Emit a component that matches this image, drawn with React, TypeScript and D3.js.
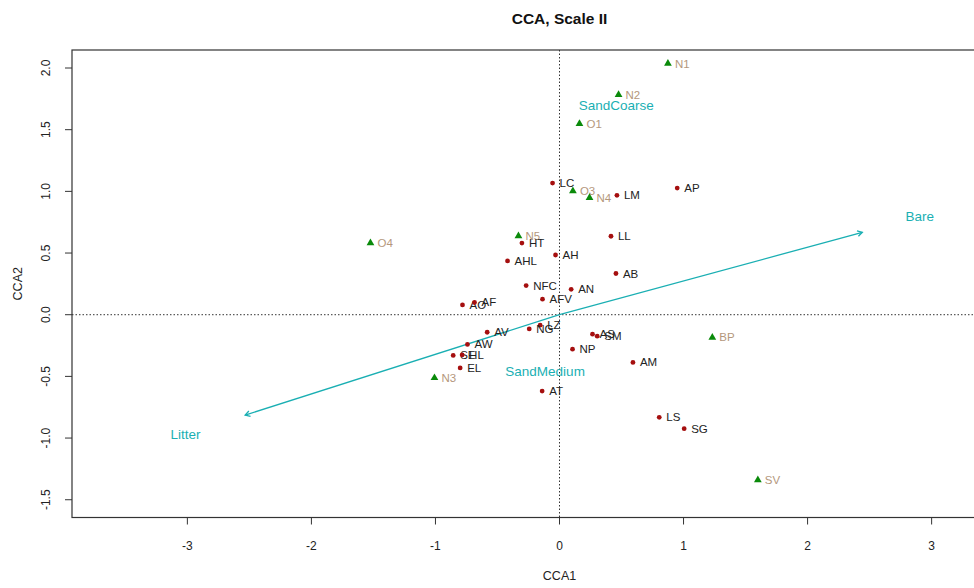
import React from "react";
import * as d3 from "d3";

// Site scores (red points)
const siteNames = ["LC","LM","AP","HT","LL","AHL","AH","AB","NFC","AN","AFV","AO","AF","LZ","NG","AV","AW","SE","HL","EL","AT","NP","AS","SM","AM","LS","SG"];
const siteCCA1 = [-0.056,0.463,0.949,-0.303,0.415,-0.419,-0.032,0.455,-0.269,0.094,-0.137,-0.782,-0.685,-0.156,-0.244,-0.583,-0.742,-0.857,-0.785,-0.801,-0.140,0.105,0.266,0.304,0.592,0.804,1.005];
const siteCCA2 = [1.067,0.968,1.027,0.581,0.636,0.436,0.484,0.334,0.236,0.206,0.126,0.079,0.099,-0.085,-0.115,-0.142,-0.241,-0.330,-0.326,-0.431,-0.619,-0.279,-0.158,-0.174,-0.387,-0.832,-0.924];

// Plot scores (green triangles)
const plotNames = ["N1","N2","O1","O3","N4","N5","O4","N3","BP","SV"];
const plotCCA1 = [0.874,0.476,0.161,0.108,0.242,-0.331,-1.524,-1.008,1.232,1.599];
const plotCCA2 = [2.036,1.783,1.549,1.003,0.949,0.638,0.581,-0.512,-0.184,-1.340];

// Continuous environmental vectors
const vectorNames = ["Bare","Litter"];
const vectorCCA1 = [2.441,-2.534];
const vectorCCA2 = [0.668,-0.814];

// Factor centroids
const centroidNames = ["SandCoarse","SandMedium"];
const centroidCCA1 = [0.458,-0.116];
const centroidCCA2 = [1.700,-0.457];

const xTicks = [-3,-2,-1,0,1,2,3];
const yTicks = [-1.5,-1.0,-0.5,0.0,0.5,1.0,1.5,2.0];

const W = 974, H = 588;
const left = 72, right = 1047, top = 50, bottom = 517.5;
const FONT = "'Liberation Sans', Arial, Helvetica, sans-serif";
const TEAL = "#1aafb3";
const LABEL_MULT = 1.19;

export default function App() {
  const x = d3.scaleLinear().domain([-3.93, 3.93]).range([left, right]);
  const y = d3.scaleLinear().domain([-1.644, 2.146]).range([bottom, top]);

  const arrowHead = (x0: number, y0: number, x1: number, y1: number) => {
    const ang = Math.atan2(y1 - y0, x1 - x0);
    const len = 5.5, spread = Math.PI / 6;
    const p1 = [x1 - len * Math.cos(ang - spread), y1 - len * Math.sin(ang - spread)];
    const p2 = [x1 - len * Math.cos(ang + spread), y1 - len * Math.sin(ang + spread)];
    return `M${p1[0]},${p1[1]}L${x1},${y1}L${p2[0]},${p2[1]}`;
  };

  const tri = d3.symbol().type(d3.symbolTriangle).size(26)();

  return (
    <svg width={W} height={H} style={{ position: "absolute", left: 0, top: 0, background: "#fff" }} fontFamily={FONT}>
      <defs>
        <clipPath id="plotArea">
          <rect x={left} y={top} width={right - left} height={bottom - top} />
        </clipPath>
      </defs>

      <text x={(left + right) / 2} y={23.5} textAnchor="middle" fontSize={15.5} fontWeight="bold" fill="#111">CCA, Scale II</text>

      <g clipPath="url(#plotArea)">
        <line x1={x(0)} x2={x(0)} y1={top} y2={bottom} stroke="#333" strokeWidth={1} strokeDasharray="1.5,2" />
        <line x1={left} x2={right} y1={y(0)} y2={y(0)} stroke="#333" strokeWidth={1} strokeDasharray="1.5,2" />

        {vectorNames.map((n, i) => {
          const x1 = x(vectorCCA1[i]), y1 = y(vectorCCA2[i]);
          return (
            <g key={n}>
              <line x1={x(0)} y1={y(0)} x2={x1} y2={y1} stroke={TEAL} strokeWidth={1.3} />
              <path d={arrowHead(x(0), y(0), x1, y1)} fill="none" stroke={TEAL} strokeWidth={1.3} />
              <text x={x(vectorCCA1[i] * LABEL_MULT)} y={y(vectorCCA2[i] * LABEL_MULT)} textAnchor="middle" dominantBaseline="central" fontSize={13.5} fill={TEAL}>{n}</text>
            </g>
          );
        })}

        {centroidNames.map((n, i) => (
          <text key={n} x={x(centroidCCA1[i])} y={y(centroidCCA2[i])} textAnchor="middle" dominantBaseline="central" fontSize={13.5} fill={TEAL}>{n}</text>
        ))}

        {plotNames.map((n, i) => (
          <g key={n} transform={`translate(${x(plotCCA1[i])},${y(plotCCA2[i])})`}>
            <path d={tri!} fill="#0a8a0a" />
            <text x={7} y={0} dominantBaseline="central" fontSize={11.5} fill="#b4977c">{n}</text>
          </g>
        ))}

        {siteNames.map((n, i) => (
          <g key={n} transform={`translate(${x(siteCCA1[i])},${y(siteCCA2[i])})`}>
            <circle r={2.4} fill="#a50f0f" />
            <text x={7} y={0} dominantBaseline="central" fontSize={11.5} fill="#222">{n}</text>
          </g>
        ))}
      </g>

      <rect x={left} y={top} width={right - left} height={bottom - top} fill="none" stroke="#333" strokeWidth={1.2} />

      {xTicks.map(t => (
        <g key={t}>
          <line x1={x(t)} x2={x(t)} y1={bottom} y2={bottom + 7} stroke="#333" />
          <text x={x(t)} y={546} textAnchor="middle" dominantBaseline="central" fontSize={12} fill="#222">{t}</text>
        </g>
      ))}
      {yTicks.map(t => (
        <g key={t}>
          <line x1={left} x2={left - 7} y1={y(t)} y2={y(t)} stroke="#333" />
          <text transform={`translate(46,${y(t)}) rotate(-90)`} textAnchor="middle" dominantBaseline="central" fontSize={12} fill="#222">{t.toFixed(1)}</text>
        </g>
      ))}

      <text x={(left + right) / 2} y={576} textAnchor="middle" dominantBaseline="central" fontSize={12.5} fill="#222">CCA1</text>
      <text transform={`translate(18,${(top + bottom) / 2}) rotate(-90)`} textAnchor="middle" dominantBaseline="central" fontSize={12.5} fill="#222">CCA2</text>
    </svg>
  );
}
